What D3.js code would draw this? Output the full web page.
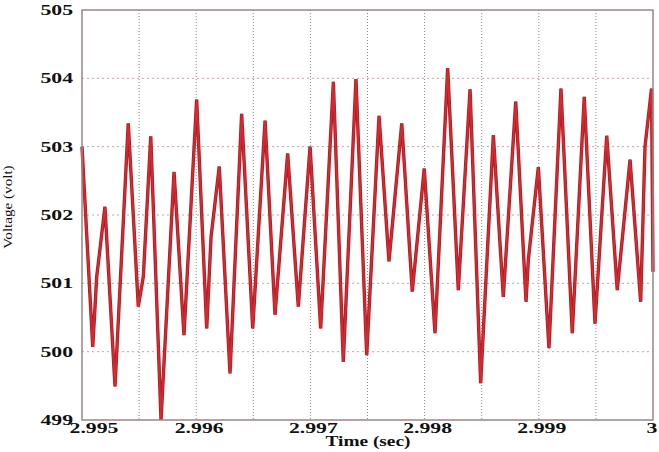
<!DOCTYPE html>
<html>
<head>
  <meta charset="UTF-8">
  <style>
    body { margin: 0; background: #fff; }
    text { font-family: "Liberation Serif", "DejaVu Serif", serif; fill: #111; }
  </style>
</head>
<body>
<div id="chart_div"></div>
<script src="https://d3js.org/d3.v7.min.js"></script>
<script>
let width = 659, height = 452;

// time (s) and voltage (V)
const timeSec = [2.995000, 2.995094, 2.995129, 2.995201, 2.995289, 2.995405, 2.995493, 2.995537,
  2.995602, 2.995692, 2.995806, 2.995893, 2.996004, 2.996092, 2.996130, 2.996202, 2.996296,
  2.996398, 2.996495, 2.996603, 2.996690, 2.996801, 2.996894, 2.996997, 2.997090, 2.997201,
  2.997288, 2.997399, 2.997493, 2.997601, 2.997688, 2.997800, 2.997892, 2.997997, 2.998091,
  2.998202, 2.998295, 2.998398, 2.998491, 2.998602, 2.998689, 2.998798, 2.998888, 2.998908,
  2.998996, 2.999089, 2.999194, 2.999293, 2.999398, 2.999492, 2.999595, 2.999687, 2.999799,
  2.999892, 2.999930, 2.999987, 3.000000];
const voltage = [503.0, 500.07, 501.1, 502.12, 499.49, 503.34, 500.66, 501.1,
  503.15, 499.0, 502.63, 500.24, 503.69, 500.34, 501.68, 502.71, 499.68,
  503.48, 500.34, 503.38, 500.54, 502.90, 500.66, 503.0, 500.34, 503.95,
  499.85, 503.99, 499.95, 503.45, 501.32, 503.34, 500.88, 502.68, 500.27,
  504.15, 500.90, 503.84, 499.54, 503.17, 500.80, 503.66, 500.73, 501.34,
  502.70, 500.05, 503.85, 500.27, 503.73, 500.41, 503.16, 500.90, 502.81,
  500.73, 503.0, 503.85, 501.17];

const xTicks = [2.995, 2.996, 2.997, 2.998, 2.999, 3];
const xGrid = [2.9955, 2.996, 2.9965, 2.997, 2.9975, 2.998, 2.9985, 2.999, 2.9995];
const yTicks = [499, 500, 501, 502, 503, 504, 505];

const margin = {left: 82, right: 6, top: 10, bottom: 32};

let svg = d3.select("#chart_div")
  .append("svg")
  .attr("width", width)
  .attr("height", height);

const x = d3.scaleLinear().domain([2.995, 3]).range([margin.left, width - margin.right]);
const y = d3.scaleLinear().domain([499, 505]).range([height - margin.bottom, margin.top]);

// grid
svg.append("g").selectAll("line")
  .data(xGrid).enter().append("line")
  .attr("x1", d => x(d)).attr("x2", d => x(d))
  .attr("y1", y(505)).attr("y2", y(499))
  .attr("stroke", "#8a8a8a")
  .attr("stroke-width", 1)
  .attr("stroke-dasharray", "1,2");
svg.append("g").selectAll("line")
  .data(yTicks.slice(1, -1)).enter().append("line")
  .attr("x1", x(2.995)).attr("x2", x(3))
  .attr("y1", d => y(d)).attr("y2", d => y(d))
  .attr("stroke", "#c9a5a5")
  .attr("stroke-width", 1)
  .attr("stroke-dasharray", "2,3");

// the waveform
const pts = timeSec.map((t, i) => [t, voltage[i]]);
svg.append("path")
  .datum(pts)
  .attr("fill", "none")
  .attr("stroke", "#a81e24")
  .attr("stroke-width", 3.4)
  .attr("d", d3.line().x(d => x(d[0])).y(d => y(d[1])));
svg.append("path")
  .datum(pts)
  .attr("fill", "none")
  .attr("stroke", "#d42a30")
  .attr("stroke-width", 1.8)
  .attr("d", d3.line().x(d => x(d[0])).y(d => y(d[1])));

// frame
svg.append("rect")
  .attr("x", x(2.995)).attr("y", y(505))
  .attr("width", x(3) - x(2.995)).attr("height", y(499) - y(505))
  .attr("fill", "none")
  .attr("stroke", "#9c8585")
  .attr("stroke-width", 1.5);

// tick labels (wide bold serif, stretched horizontally)
svg.append("g").selectAll("text")
  .data(yTicks).enter().append("text")
  .attr("transform", d => `translate(${x(2.995) - 9},${y(d) + 5}) scale(1.5,1)`)
  .attr("text-anchor", "end")
  .attr("font-size", 14.5)
  .attr("font-weight", "bold")
  .text(d => d);
svg.append("g").selectAll("text")
  .data(xTicks).enter().append("text")
  .attr("transform", (d, i) => {
    let px = x(d) + 3;
    if (i === 0) px = x(d) + 12;
    if (i === xTicks.length - 1) px = x(d) - 1;
    return `translate(${px},${y(499) + 13}) scale(1.45,1)`;
  })
  .attr("text-anchor", "middle")
  .attr("font-size", 15)
  .attr("font-weight", "bold")
  .text(d => d);

// axis titles
svg.append("text")
  .attr("transform", "translate(368,446) scale(1.38,1)")
  .attr("text-anchor", "middle")
  .attr("font-size", 14)
  .attr("font-weight", "bold")
  .text("Time (sec)");
svg.append("text")
  .attr("transform", "translate(12,207) rotate(-90) scale(1.12,1)")
  .attr("text-anchor", "middle")
  .attr("font-size", 13.5)
  .text("Voltage (volt)");
</script>
</body>
</html>
